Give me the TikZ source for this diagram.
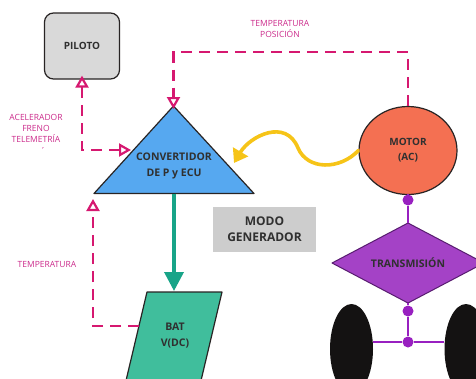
\documentclass[tikz,border=0pt]{standalone}
\usepackage{fontspec}
\setmainfont{Open Sans}
\usetikzlibrary{arrows.meta,shapes.geometric,calc}

\definecolor{edgecol}{RGB}{40,36,36}
\definecolor{txtcol}{RGB}{48,48,48}
\definecolor{pilotgray}{RGB}{217,217,217}
\definecolor{convblue}{RGB}{86,168,240}
\definecolor{motorred}{RGB}{244,112,82}
\definecolor{batgreen}{RGB}{64,190,156}
\definecolor{flowgreen}{RGB}{24,164,136}
\definecolor{heatyellow}{RGB}{246,196,24}
\definecolor{modogray}{RGB}{205,205,205}
\definecolor{sigmag}{RGB}{214,24,112}
\definecolor{siglblcol}{RGB}{204,44,140}
\definecolor{transfill}{RGB}{164,66,198}
\definecolor{transedge}{RGB}{88,28,112}
\definecolor{drivecol}{RGB}{152,32,192}
\definecolor{tyre}{RGB}{20,18,18}

\begin{document}
\begin{tikzpicture}[x=1pt,y=-1pt,
  boldtxt/.style={text=txtcol,font=\bfseries\fontsize{10.5}{16}\selectfont,align=center},
  siglbl/.style={text=siglblcol,font=\fontsize{8.5}{11}\selectfont,align=center},
  sig/.style={draw=sigmag,line width=2.4pt,dash pattern=on 11pt off 7pt},
  opentip/.tip={Triangle[open,length=12pt,width=13pt,line width=2.2pt]},
  sigtip/.style={-opentip},
  shapeedge/.style={draw=edgecol,line width=1.2pt,line join=round},
  plink/.style={draw=drivecol,line width=2.6pt},
  drivedot/.style={circle,fill=drivecol,minimum size=11pt,inner sep=0pt},
  wheel/.style={ellipse,fill=tyre,minimum width=43pt,minimum height=90pt,inner sep=0pt}
]
\useasboundingbox (0,0) rectangle (476,378);
\clip (0,0) rectangle (476,378);
\fill[white] (0,0) rectangle (476,378);

% driver box
\node[shapeedge,fill=pilotgray,rounded corners=9pt,minimum width=75pt,minimum height=66pt,
      boldtxt,font=\bfseries\fontsize{10}{16}\selectfont] (pilot) at (82,46) {PILOTO};

% power converter / ECU triangle
\coordinate (cvA) at (173.5,106);
\coordinate (cvL) at (94,193.5);
\coordinate (cvR) at (254,193.5);
\coordinate (cvB) at (174,193.5);
\filldraw[shapeedge,fill=convblue] (cvA) -- (cvR) -- (cvL) -- cycle;
\node[boldtxt] (conv) at (174,165.5) {CONVERTIDOR\\DE P y ECU};
\coordinate (cvP) at (131,150);
\coordinate (cvTemp) at (93,199);

% battery parallelogram
\coordinate (b1) at (147,292);
\coordinate (b2) at (222,292);
\coordinate (b3) at (196.4,400);
\coordinate (b4) at (121.4,400);
\filldraw[shapeedge,fill=batgreen] (b1) -- (b2) -- (b3) -- (b4) -- cycle;
\node[boldtxt] (bat) at (175,335.5) {BAT\\V(DC)};
\coordinate (batN) at (174,291);
\coordinate (batW) at (139,326);

% motor
\node[ellipse,shapeedge,fill=motorred,minimum width=98pt,minimum height=88pt,inner sep=0pt,
      boldtxt,font=\bfseries\fontsize{10}{15}\selectfont] (motor) at (408,150.5) {MOTOR\\(AC)};

% generator mode tag
\node[fill=modogray,minimum width=103pt,minimum height=45pt,inner sep=0pt,
      boldtxt,font=\bfseries\fontsize{12}{16}\selectfont] (modo) at (264.5,229.5) {MODO\\GENERADOR};

% transmission diamond
\coordinate (trN) at (408,223);
\coordinate (trE) at (484,263);
\coordinate (trS) at (408,303);
\coordinate (trW) at (332,263);
\filldraw[draw=transedge,line width=1pt,fill=transfill,line join=round] (trN) -- (trE) -- (trS) -- (trW) -- cycle;
\node[boldtxt] (trans) at (408,263) {TRANSMISIÓN};

% drive line and wheels
\node[drivedot] (d1) at (408,200) {};
\node[drivedot] (d2) at (408,311) {};
\node[drivedot] (d3) at (408,342) {};
\node[wheel] (wheelL) at (351.5,349) {};
\node[wheel] (wheelR) at (466,349) {};
\draw[plink] (motor.south) -- (d1) -- (trN);
\draw[plink] (trS) -- (d2) -- (d3);
\draw[plink] (d3) -- (d3 -| wheelL.east);
\draw[plink] (d3) -- (d3 -| wheelR.west);

% power flow: converter to battery
\draw[draw=flowgreen,line width=3.6pt,-{Triangle[length=19pt,width=19pt]}] (cvB) -- (batN);

% regenerated energy: motor back to converter
\draw[draw=heatyellow,line width=3.6pt,line cap=round,-{Triangle[length=13pt,width=17pt]}]
  (motor.west) .. controls (340,170) and (307.6,170.4) .. (298,148)
  .. controls (286,118) and (250,136) .. (234,163);

% signal lines
\coordinate (sigT) at (290,52);
\draw[sig,opentip-opentip] ([yshift=4pt]pilot.south) |- (cvP);
\draw[sig,sigtip] (motor.north) |- (sigT) -| ([yshift=-3pt]cvA);
\draw[sig,sigtip] (batW) -| (cvTemp);

% signal labels
\node[siglbl] (lblP) at (36,128) {ACELERADOR\\FRENO\\TELEMETRÍA};
\node[siglbl,font=\fontsize{9}{9}\selectfont] (lblMark) at (43,151) {´};
\node[siglbl] (lblM) at (280,28.5) {TEMPERATURA\\POSICIÓN};
\node[siglbl] (lblB) at (47,264) {TEMPERATURA};
\end{tikzpicture}
\end{document}
